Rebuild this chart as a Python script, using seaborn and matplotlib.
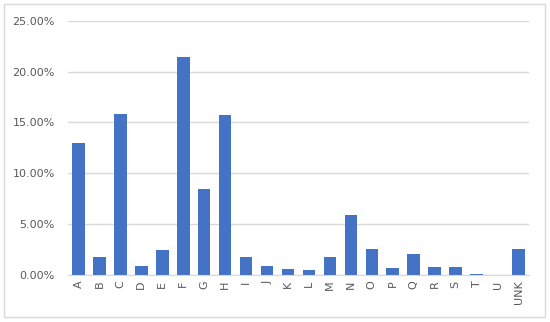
import seaborn as sns
import matplotlib.pyplot as plt
import pandas as pd
from matplotlib.ticker import PercentFormatter, MultipleLocator
from matplotlib.patches import Rectangle

categories = ["A", "B", "C", "D", "E", "F", "G", "H", "I", "J", "K",
              "L", "M", "N", "O", "P", "Q", "R", "S", "T", "U", "UNK"]
share = [13.0, 1.8, 15.8, 0.92, 2.43, 21.4, 8.49, 15.7, 1.77, 0.88, 0.59,
         0.49, 1.74, 5.9, 2.56, 0.72, 2.1, 0.79, 0.75, 0.05, 0.0, 2.56]

df = pd.DataFrame({"cat": categories, "share": share})

sns.set_style("white")
plt.rcParams['font.family'] = ['DejaVu Sans']

fig = plt.figure(figsize=(5.5, 3.22), dpi=100)
ax = fig.add_axes([0.1236, 0.146, 0.8382, 0.7897])

sns.barplot(data=df, x="cat", y="share", color="#4472C4", width=0.6,
            saturation=1, linewidth=0, ax=ax)

ax.set_xlim(-0.5, len(categories) - 0.5)
ax.set_ylim(0, 25)
ax.yaxis.set_major_locator(MultipleLocator(5))
ax.yaxis.set_major_formatter(PercentFormatter(xmax=100, decimals=2))
ax.grid(axis="y", color="#d9d9d9", linewidth=1)
ax.set_axisbelow(True)
ax.set_xlabel("")
ax.set_ylabel("")

for s in ["top", "right", "left"]:
    ax.spines[s].set_visible(False)
ax.spines["bottom"].set_color("#d9d9d9")
ax.tick_params(axis="both", length=0, colors="#595959", labelsize=8)
ax.tick_params(axis="x", rotation=90, pad=4)
ax.tick_params(axis="y", pad=9.5)

fig.patches.append(Rectangle((4 / 550, 5 / 322), 541 / 550, 313 / 322,
                             transform=fig.transFigure, fill=False,
                             edgecolor="#d9d9d9", linewidth=1))

fig.savefig("out.png", dpi=100)
